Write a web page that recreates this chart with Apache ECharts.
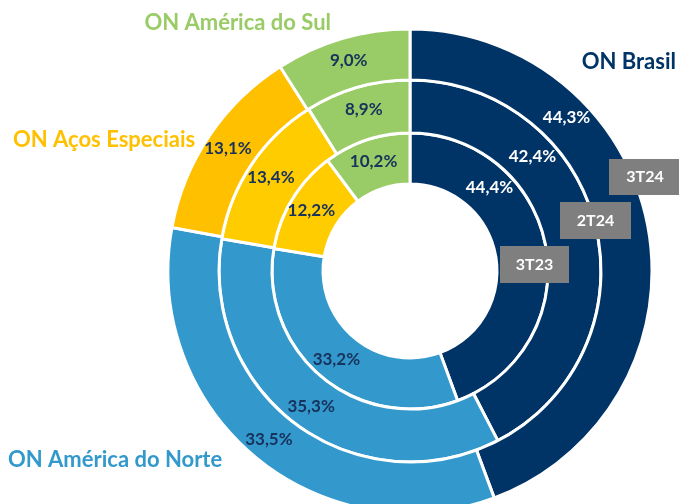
<!DOCTYPE html>
<html>
<head>
<meta charset="utf-8">
<script src="https://cdn.jsdelivr.net/npm/echarts@6/dist/echarts.min.js"></script>
<style>
  html, body { margin: 0; padding: 0; background: #fff; }
  #main { width: 679px; height: 504px; }
</style>
</head>
<body>
<div id="main"></div>
<script>
// segmentos, na ordem em que aparecem no sentido horário a partir do topo
var segments = ['ON Brasil', 'ON América do Norte', 'ON Aços Especiais', 'ON América do Sul']
// anéis: de dentro para fora
var periods = ['3T23', '2T24', '3T24']
var values3T23 = [44.4, 33.2, 12.2, 10.2]
var values2T24 = [42.4, 35.3, 13.4, 8.9]
var values3T24 = [44.3, 33.5, 13.1, 9.0]

var CX = 410
var CY = 271
var radii = [[87, 138], [138, 191], [191, 242]]
// os rótulos de ON Brasil foram deslocados para ~45° no original
var brasilLabelAngle = [43.5, 47, 45.5]

var navy = '#003366'
var labelNavy = '#17325C'
var ringColors = [
  [navy, '#3399CC', '#FFCC00', '#99CC66'],
  [navy, '#3399CC', '#FFCC00', '#99CC66'],
  [navy, '#3399CC', '#FFC000', '#99CC66']
]
var fontFamily = 'Lato, "Noto Sans", sans-serif'

function fmt(v) {
  return v.toFixed(1).replace('.', ',') + '%'
}

function makeRing(idx, values) {
  return {
    name: periods[idx],
    type: 'pie',
    center: [CX, CY],
    radius: radii[idx],
    startAngle: 90,
    clockwise: true,
    silent: true,
    animation: false,
    itemStyle: { borderColor: '#fff', borderWidth: 3 },
    label: {
      show: true,
      position: 'inside',
      fontFamily: fontFamily,
      fontWeight: 'bold',
      fontSize: 17,
      formatter: function(p) { return fmt(p.value) }
    },
    labelLine: { show: false },
    labelLayout: function(p) {
      if (p.dataIndex !== 0) return {}
      var lx = p.labelRect.x + p.labelRect.width / 2
      var ly = p.labelRect.y + p.labelRect.height / 2
      var r = Math.sqrt((lx - CX) * (lx - CX) + (ly - CY) * (ly - CY))
      var a = brasilLabelAngle[idx] * Math.PI / 180
      return { x: CX + r * Math.sin(a), y: CY - r * Math.cos(a) }
    },
    data: values.map(function(v, i) {
      return {
        name: segments[i],
        value: v,
        itemStyle: { color: ringColors[idx][i] },
        label: { color: i === 0 ? '#fff' : labelNavy }
      }
    })
  }
}

// caixas cinzas com o nome do período
var boxes = [
  { text: periods[2], x: 609, y: 159, w: 72, h: 36 },
  { text: periods[1], x: 560, y: 202, w: 71, h: 37 },
  { text: periods[0], x: 500, y: 246, w: 69, h: 37 }
]
// nomes dos segmentos
var segTitles = [
  { text: segments[0], color: navy, x: 676, y: 62, align: 'right' },
  { text: segments[1], color: '#3399CC', x: 8, y: 460, align: 'left' },
  { text: segments[2], color: '#FFC000', x: 13, y: 140, align: 'left' },
  { text: segments[3], color: '#99CC66', x: 331, y: 23, align: 'right' }
]

var graphics = []
boxes.forEach(function(b) {
  graphics.push({
    type: 'rect', silent: true, z: 10,
    shape: { x: b.x, y: b.y, width: b.w, height: b.h },
    style: { fill: '#7F7F7F' }
  })
  graphics.push({
    type: 'text', silent: true, z: 11,
    x: b.x + b.w / 2, y: b.y + b.h / 2,
    style: {
      text: b.text, fill: '#fff', align: 'center', verticalAlign: 'middle',
      font: 'bold 16px ' + fontFamily
    }
  })
})
segTitles.forEach(function(t) {
  graphics.push({
    type: 'text', silent: true, z: 11,
    x: t.x, y: t.y,
    style: {
      text: t.text, fill: t.color, align: t.align, verticalAlign: 'middle',
      font: 'bold 22px ' + fontFamily
    }
  })
})

var chart = echarts.init(document.getElementById('main'))
chart.setOption({
  backgroundColor: '#fff',
  series: [
    makeRing(0, values3T23),
    makeRing(1, values2T24),
    makeRing(2, values3T24)
  ],
  graphic: graphics
})
</script>
</body>
</html>
